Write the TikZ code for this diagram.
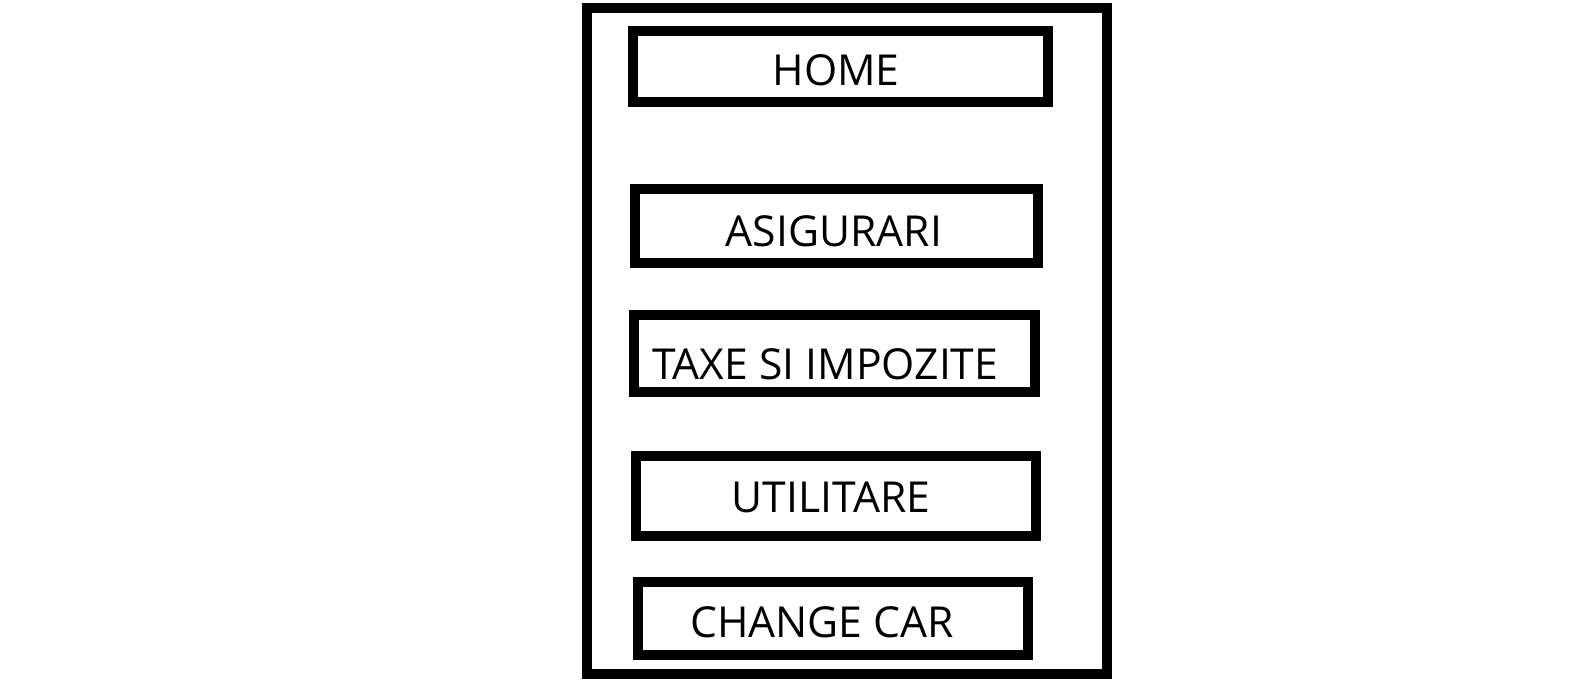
\documentclass[tikz,border=0pt]{standalone}
\usepackage{fontspec}
\setmainfont{Open Sans}
\begin{document}
\begin{tikzpicture}[x=0.75pt, y=-0.75pt,
  menubox/.style={draw, shape=rectangle, line width=7.5pt, inner sep=0pt},
  menutext/.style={anchor=base, inner sep=0pt, font=\fontsize{32pt}{38pt}\selectfont}]
\useasboundingbox (0,0) rectangle (1575,679);
\node (frame) [menubox, minimum width=390pt, minimum height=499.5pt] at (847,341) {};
\node (home) [menubox, minimum width=311.25pt, minimum height=53.25pt] at (840.5,66.5) {};
\node (asig) [menubox, minimum width=302pt, minimum height=55.3pt] at (836.3,225.9) {};
\node (taxe) [menubox, minimum width=300.75pt, minimum height=57.5pt] at (834.5,353.3) {};
\node (util) [menubox, minimum width=300.2pt, minimum height=60pt] at (835.9,495.7) {};
\node (car) [menubox, minimum width=292.7pt, minimum height=54.5pt] at (832.9,618.7) {};
\node (homelbl) [menutext] at (836,85) {HOME};
\node (asiglbl) [menutext] at (834,246) {ASIGURARI};
\node (taxelbl) [menutext, anchor=base west] at (652,379) {TAXE SI IMPOZITE};
\node (utillbl) [menutext] at (831,512) {UTILITARE};
\node (carlbl) [menutext, anchor=base west] at (690,637) {CHANGE CAR};
\end{tikzpicture}
\end{document}
